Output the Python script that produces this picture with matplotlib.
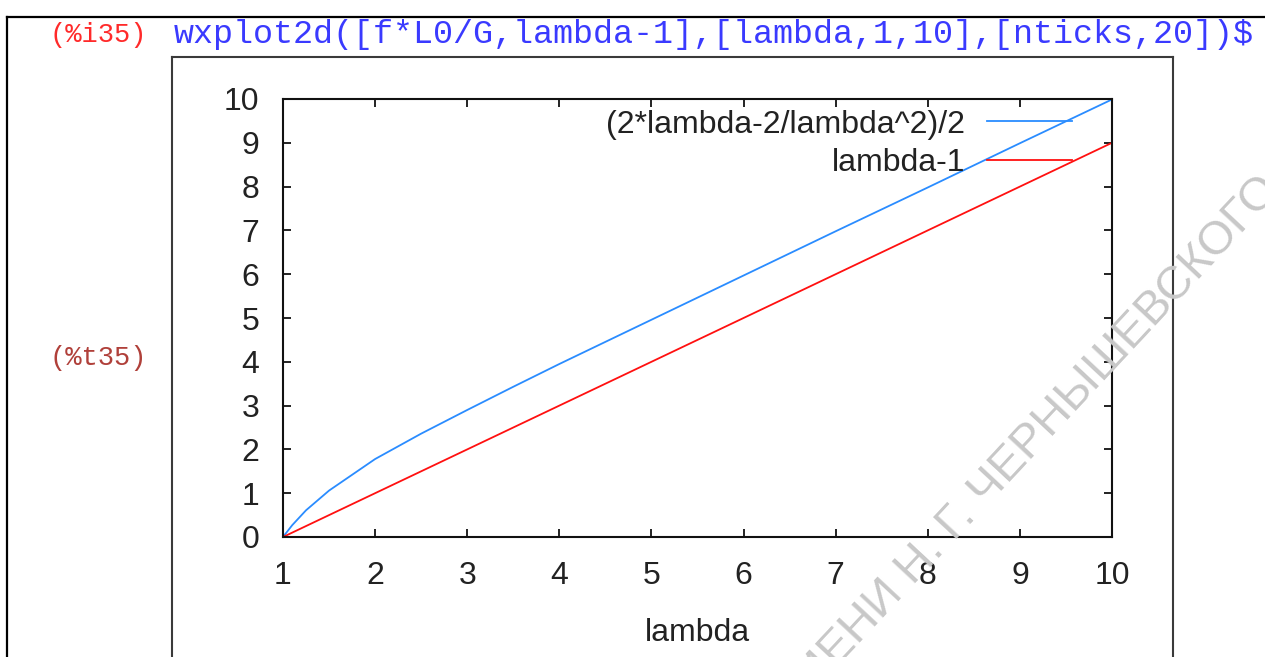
import matplotlib
matplotlib.use("Agg")
import matplotlib.pyplot as plt
from matplotlib.lines import Line2D

# ------------------------------
# Data
# ------------------------------
lam_f = [1.0, 1.1, 1.25, 1.5, 1.75, 2.0, 2.5, 3.0, 3.5, 4.0, 5.0, 6.0, 7.0, 8.0, 9.0, 10.0]
f_vals = [0.0, 0.27, 0.61, 1.06, 1.42, 1.78, 2.36, 2.9, 3.43, 3.95, 4.96, 5.97, 6.98, 7.98, 8.99, 9.99]
lam_g = [1, 2, 3, 4, 5, 6, 7, 8, 9, 10]
g_vals = [0, 1, 2, 3, 4, 5, 6, 7, 8, 9]

x_ticks = [1, 2, 3, 4, 5, 6, 7, 8, 9, 10]
y_ticks = [0, 1, 2, 3, 4, 5, 6, 7, 8, 9, 10]

label_f = "(2*lambda-2/lambda^2)/2"
label_g = "lambda-1"
x_label = "lambda"

input_tag = "(%i35)"
input_cmd = "wxplot2d([f*L0/G,lambda-1],[lambda,1,10],[nticks,20])$"
output_tag = "(%t35)"
watermark = "УНИВЕРСИТЕТ ИМЕНИ Н. Г. ЧЕРНЫШЕВСКОГО"

W, H = 1265, 657
fig = plt.figure(figsize=(W / 100, H / 100), dpi=100)
fig.patch.set_facecolor("white")


def fx(px):
    return px / W


def fy(py):
    return 1 - py / H


# outer wxMaxima cell frame
fig.add_artist(Line2D([fx(7), fx(W)], [fy(17), fy(17)], color="black", lw=1.6))
fig.add_artist(Line2D([fx(7), fx(7)], [fy(17), fy(H + 5)], color="black", lw=1.6))

# header line
mono = "Liberation Mono"
fig.text(fx(50), fy(35), input_tag, color="#ff2a2a", family=mono, fontsize=19.5, va="center")
fig.text(fx(174), fy(35), input_cmd, color="#3a3aff", family=mono, fontsize=24.0, va="center")
fig.text(fx(50), fy(358), output_tag, color="#b0403a", family=mono, fontsize=19.5, va="center")

# plot image frame
fc = "#3a3a3a"
fig.add_artist(Line2D([fx(172), fx(1173)], [fy(57), fy(57)], color=fc, lw=1.5))
fig.add_artist(Line2D([fx(172), fx(172)], [fy(57), fy(H + 5)], color=fc, lw=1.5))
fig.add_artist(Line2D([fx(1173), fx(1173)], [fy(57), fy(H + 5)], color=fc, lw=1.5))

# gnuplot axes
ax = fig.add_axes([fx(283), fy(537), fx(1112) - fx(283), fy(99) - fy(537)])
ax.plot(lam_f, f_vals, color="#2a8cff", lw=1.3, label=label_f)
ax.plot(lam_g, g_vals, color="#ff1010", lw=1.3, label=label_g)
ax.set_xlim(1, 10)
ax.set_ylim(0, 10)
ax.set_xticks(x_ticks)
ax.set_yticks(y_ticks)
for s in ax.spines.values():
    s.set_linewidth(1.5)
    s.set_color("#111111")
ax.tick_params(direction="in", length=6, width=1.3, top=True, right=True,
               labelsize=23, colors="#111111")
ax.tick_params(axis="y", pad=17)
ax.tick_params(axis="x", pad=17.5)
for t in ax.get_xticklabels() + ax.get_yticklabels():
    t.set_family("Liberation Sans")
    t.set_color("#222222")
ax.set_xlabel(x_label, family="Liberation Sans", fontsize=23, color="#222222", labelpad=19)

leg = ax.legend(loc="upper right", bbox_to_anchor=(0.9517, 0.976), frameon=False,
                markerfirst=False, handlelength=2.66, handletextpad=0.69,
                labelspacing=0.27, borderaxespad=0.0, borderpad=0.0,
                prop={"family": "Liberation Sans", "size": 23})
for t in leg.get_texts():
    t.set_color("#222222")

# watermark
fig.text(fx(1281), fy(191), watermark, family="Liberation Sans", fontsize=34,
         color="#c8c8c8", rotation=47, rotation_mode="anchor",
         ha="right", va="baseline", zorder=10)

fig.savefig("out.png", dpi=100)
